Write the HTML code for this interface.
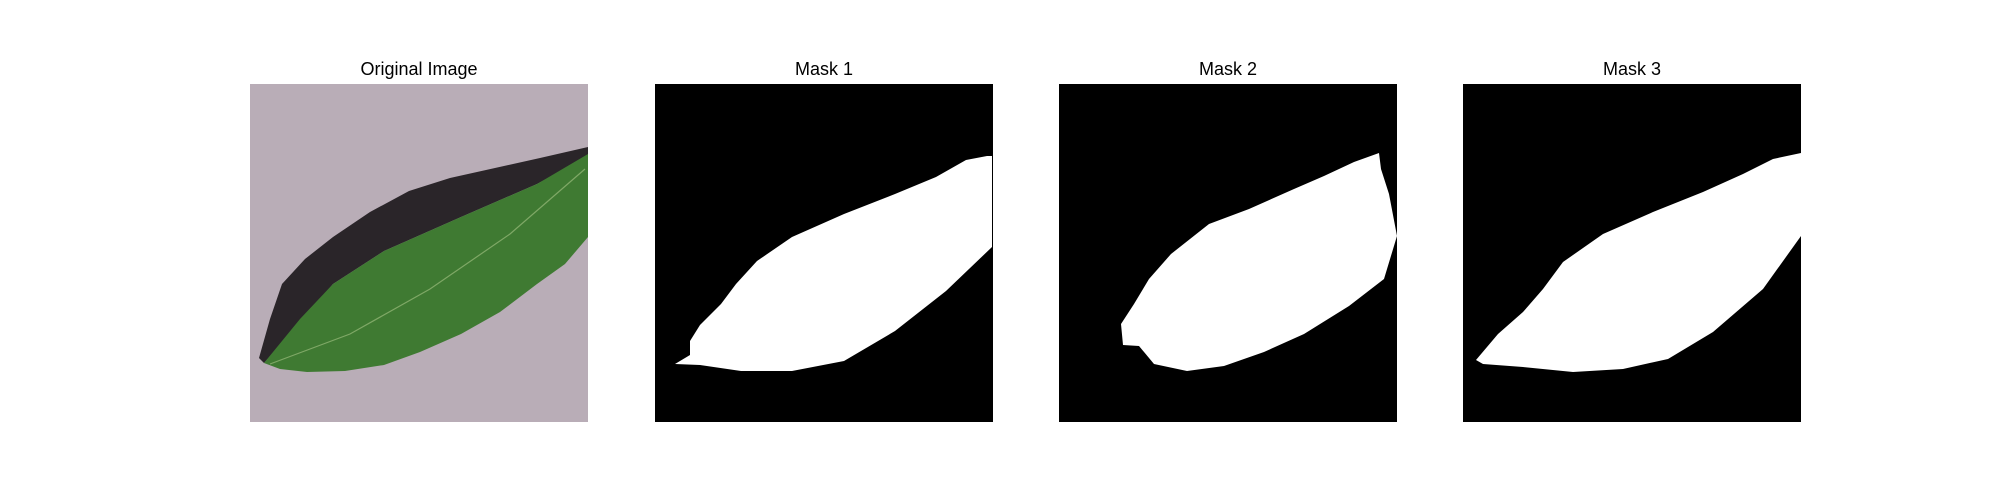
<!DOCTYPE html>
<html><head><meta charset="utf-8"><style>
body{margin:0;background:#fff;width:2000px;height:500px;overflow:hidden;font-family:"Liberation Sans","DejaVu Sans",sans-serif}
.t{position:absolute;top:59px;width:338px;text-align:center;font-size:18px;color:#000}
svg.p{position:absolute;top:84px;width:338px;height:338px}
</style></head><body>
<div class="t" style="left:250px">Original Image</div>
<div class="t" style="left:655px">Mask 1</div>
<div class="t" style="left:1059px">Mask 2</div>
<div class="t" style="left:1463px">Mask 3</div>

<svg class="p" style="left:250px" viewBox="0 0 338 338">
<rect width="338" height="338" fill="#b9adb7"/>
<polygon fill="#2a2529" points="9,274 20,235 32,200 55,175 83,153 120,128 159,107 200,94 236,86 290,74 338,63 338,72 287,100 211,133 134,167 83,200 14,279"/>
<polygon fill="#3f7a32" points="14,279 50,235 83,200 134,167 211,133 287,100 338,70 338,153 315,180 287,200 250,228 211,250 170,268 134,281 95,287 57,288 30,285"/>
<polyline fill="none" stroke="#7fa866" stroke-width="1.2" points="20,280 100,250 180,205 260,150 335,85"/>
</svg>

<svg class="p" style="left:655px" viewBox="0 0 338 338">
<rect width="338" height="338" fill="#000"/>
<polygon fill="#fff" points="332,72 311,76 281,93 240,110 189,130 137,153 102,177 81,200 66,220 45,241 35,257 35,271 20,280 45,281 86,287 137,287 189,277 240,247 291,207 337,163 337,72"/>
</svg>

<svg class="p" style="left:1059px" viewBox="0 0 338 338">
<rect width="338" height="338" fill="#000"/>
<polygon fill="#fff" points="320,69 295,78 265,92 235,105 190,125 150,140 112,170 90,195 75,220 62,240 64,261 80,262 95,280 128,287 165,282 205,268 245,250 290,222 325,195 338,152 330,110 322,85"/>
</svg>

<svg class="p" style="left:1463px" viewBox="0 0 338 338">
<rect width="338" height="338" fill="#000"/>
<polygon fill="#fff" points="338,69 310,75 280,90 240,108 190,128 140,150 100,178 80,205 60,228 35,250 13,276 20,280 60,283 110,288 160,285 205,275 250,248 300,205 338,152"/>
</svg>
</body></html>
